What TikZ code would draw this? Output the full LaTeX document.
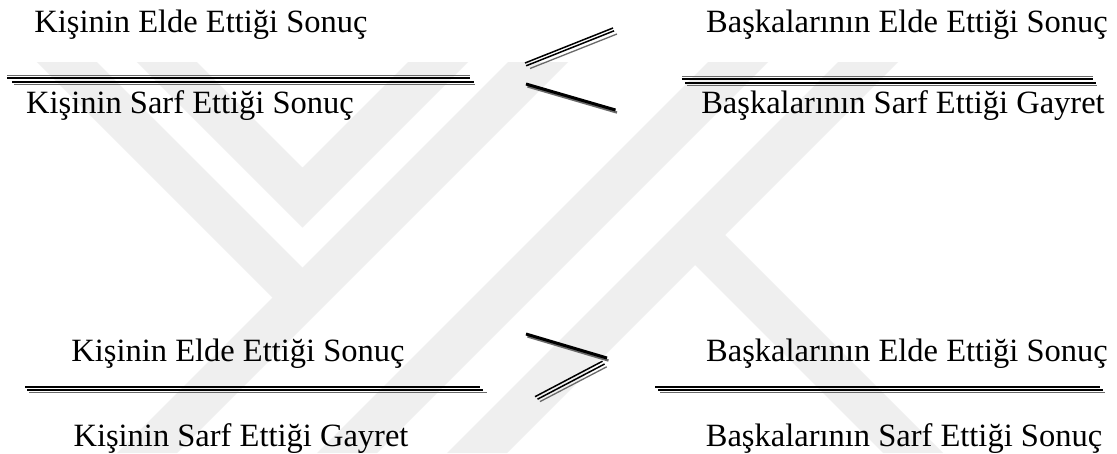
\documentclass[tikz,border=0pt]{standalone}
\usepackage{fontspec}
\setmainfont{Liberation Serif}
\definecolor{wm}{RGB}{239,239,239}
\definecolor{shd}{RGB}{105,105,105}
\begin{document}
\begin{tikzpicture}[x=1pt,y=-1pt,
  lbl/.style={font=\fontsize{32.5}{39}\selectfont, inner sep=0pt, anchor=base, text=black},
  band/.style={fill=wm, draw=none},
  thinblack/.style={draw=black, line width=1.5pt},
  thickblack/.style={draw=black, line width=2.5pt},
  greyline/.style={draw=shd, line width=1.3pt},
  stroke/.style={draw=black, line width=3pt},
  strokeshadow/.style={draw=shd, line width=2.4pt}]
\useasboundingbox (0,0) rectangle (1117,453);
\fill[white] (0,0) rectangle (1117,453);
% watermark
\begin{scope}
\clip (0,62) rectangle (1117,453);
\fill[band] (15,40) -- (75,40) -- (317.5,282.5) -- (287.5,312.5) -- cycle;
\fill[band] (530,40) -- (590,40) -- (177,453) -- (117,453) -- cycle;
\fill[band] (115,40) -- (175,40) -- (302.5,167.5) -- (430,40) -- (490,40) -- (302.5,227.5) -- cycle;
\fill[band] (730,40) -- (790,40) -- (377,453) -- (317,453) -- cycle;
\fill[band] (860,40) -- (920,40) -- (507,453) -- (447,453) -- cycle;
\fill[band] (680,250) -- (710,220) -- (943,453) -- (883,453) -- cycle;
\end{scope}
% texts
\node[lbl] (t1l) at (201,32) {Kişinin Elde Ettiği Sonuç};
\node[lbl] (t1r) at (907,32) {Başkalarının Elde Ettiği Sonuç};
\node[lbl] (b1l) at (190,113) {Kişinin Sarf Ettiği Sonuç};
\node[lbl] (b1r) at (903,113) {Başkalarının Sarf Ettiği Gayret};
\node[lbl] (t2l) at (238,361) {Kişinin Elde Ettiği Sonuç};
\node[lbl] (t2r) at (907,361) {Başkalarının Elde Ettiği Sonuç};
\node[lbl] (b2l) at (241,446) {Kişinin Sarf Ettiği Gayret};
\node[lbl] (b2r) at (904,446) {Başkalarının Sarf Ettiği Sonuç};
% fraction bars, top row
\draw[greyline] (7,75.5) -- (470,75.5);
\draw[thinblack] (7,78) -- (470,78);
\draw[thickblack] (12,82) -- (474,82);
\draw[greyline, line width=0.8pt] (14,84) -- (475,84);
\draw[greyline] (682,76.5) -- (1093,76.5);
\draw[thinblack] (682,79) -- (1093,79);
\draw[thickblack] (685,83) -- (1096,83);
\draw[greyline, line width=0.8pt] (687,85) -- (1097,85);
% fraction bars, bottom row
\draw[thickblack] (25,387) -- (480,387);
\draw[thinblack] (27,390.2) -- (483,390.2);
\draw[greyline] (29,392.8) -- (487,392.8);
\draw[thickblack] (655,387) -- (1100,387);
\draw[thinblack] (658,390.2) -- (1103,390.2);
\draw[greyline] (660,392.8) -- (1105,392.8);
% less-than sign
\draw[thinblack] (525,63) -- (613,28);
\draw[thinblack] (526.1,65.8) -- (614.1,30.8);
\draw[greyline] (530,68.5) -- (617,34);
\draw[strokeshadow] (527.5,86.4) -- (617,112.5);
\draw[stroke] (526,84) -- (615.5,110);
% greater-than sign
\draw[strokeshadow] (527.5,336.4) -- (608.5,360.5);
\draw[stroke] (526,334) -- (607,358);
\draw[thinblack] (535,396.7) -- (602.5,361.2);
\draw[thinblack] (537.5,399.2) -- (604.6,364);
\draw[greyline] (540,401.6) -- (606.7,366.8);
\end{tikzpicture}
\end{document}
